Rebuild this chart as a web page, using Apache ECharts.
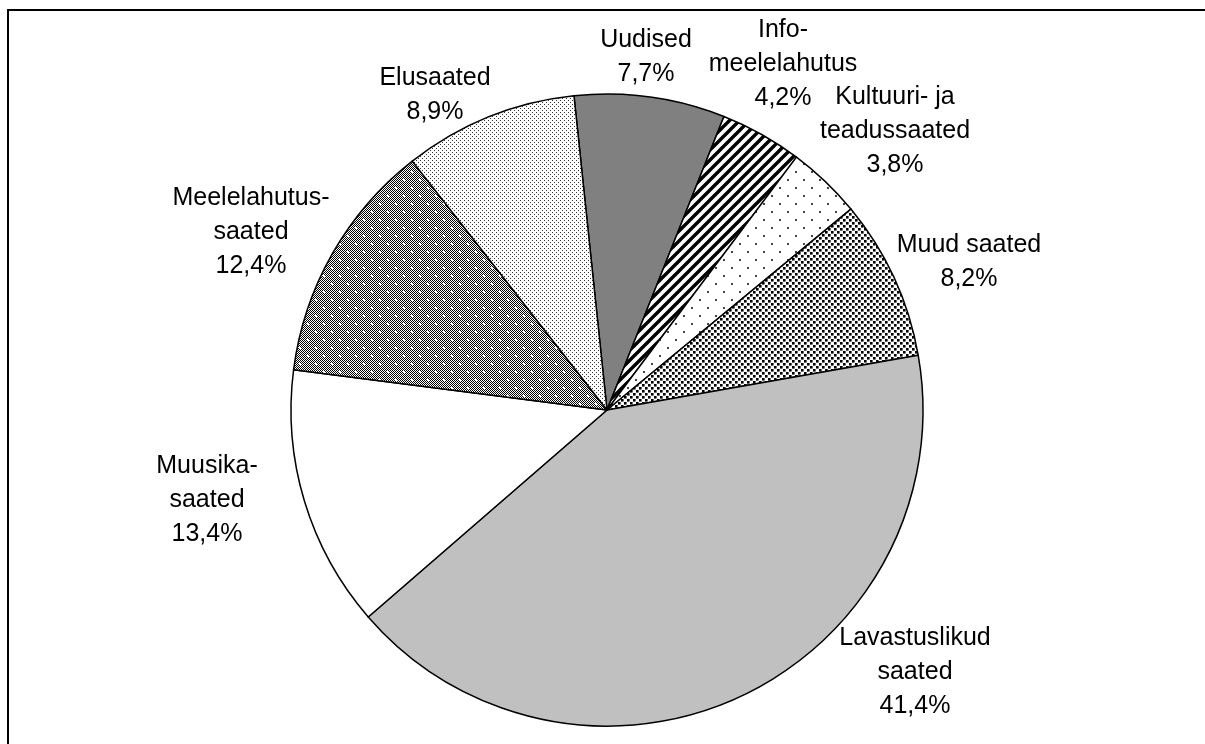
<!DOCTYPE html>
<html>
<head>
<meta charset="utf-8">
<title>Saated</title>
<script src="https://cdn.jsdelivr.net/npm/echarts@6/dist/echarts.min.js"></script>
<style>
  html, body { margin: 0; padding: 0; background: #fff; }
  #chart { width: 1205px; height: 744px; }
</style>
</head>
<body>
<div id="chart"></div>
<script>
// slice names (clockwise from top) and shares in percent
var categories = ['Uudised', 'Info-\nmeelelahutus', 'Kultuuri- ja\nteadussaated', 'Muud saated',
  'Lavastuslikud\nsaated', 'Muusika-\nsaated', 'Meelelahutus-\nsaated', 'Elusaated']
var shares = [7.7, 4.2, 3.8, 8.2, 41.4, 13.4, 12.4, 8.9]

// label centres, px
var labelPos = [[646, 57], [783, 64], [895, 131], [969, 262], [915, 672], [207, 500], [251, 232], [435, 95]]

function tile(size, draw) {
  var c = document.createElement('canvas')
  c.width = size
  c.height = size
  var ctx = c.getContext('2d')
  ctx.fillStyle = '#fff'
  ctx.fillRect(0, 0, size, size)
  draw(ctx, size)
  return { image: c, repeat: 'repeat' }
}

var stripes = tile(10, function (ctx, s) {
  ctx.strokeStyle = '#000'
  ctx.lineWidth = 3.4
  ctx.beginPath()
  ctx.moveTo(-3, 3); ctx.lineTo(3, -3)
  ctx.moveTo(0, s); ctx.lineTo(s, 0)
  ctx.moveTo(s - 3, s + 3); ctx.lineTo(s + 3, s - 3)
  ctx.stroke()
})
var sparseDots = tile(16, function (ctx) {
  ctx.fillStyle = '#444'
  ctx.fillRect(3, 3, 2, 2)
  ctx.fillRect(11, 11, 2, 2)
})
var denseDots = tile(6, function (ctx) {
  ctx.fillStyle = '#000'
  ctx.fillRect(0, 0, 2.6, 2.6)
  ctx.fillRect(3, 3, 2.6, 2.6)
})
var checker = tile(16, function (ctx, s) {
  ctx.fillStyle = '#000'
  for (var y = 0; y < s; y++) {
    for (var x = 0; x < s; x++) {
      if ((x + y) % 2 === 0) ctx.fillRect(x, y, 1, 1)
    }
  }
  ctx.fillStyle = '#fff'
  ctx.fillRect(3, 3, 2, 2)
  ctx.fillRect(11, 11, 2, 2)
})
var fineDots = tile(4, function (ctx) {
  ctx.fillStyle = '#333'
  ctx.fillRect(0, 0, 1, 1)
  ctx.fillRect(2, 2, 1, 1)
})

var fills = ['#808080', stripes, sparseDots, denseDots, '#c0c0c0', '#ffffff', checker, fineDots]

var chart = echarts.init(document.getElementById('chart'))
chart.setOption({
  animation: false,
  graphic: [{
    type: 'rect',
    shape: { x: 8, y: 10, width: 1300, height: 800 },
    style: { fill: 'none', stroke: '#000', lineWidth: 2 }
  }],
  series: [{
    type: 'pie',
    center: [607, 410],
    radius: 316,
    startAngle: 96,
    clockwise: true,
    avoidLabelOverlap: false,
    itemStyle: {
      borderColor: '#000',
      borderWidth: 1.5
    },
    emphasis: { disabled: true },
    label: {
      show: true,
      position: 'outside',
      fontFamily: 'Liberation Sans, Arial, sans-serif',
      fontSize: 25,
      lineHeight: 34,
      color: '#000',
      align: 'center',
      formatter: function (p) {
        return p.name + '\n' + p.value.toFixed(1).replace('.', ',') + '%'
      }
    },
    labelLine: { show: false },
    labelLayout: function (params) {
      var p = labelPos[params.dataIndex]
      return { x: p[0], y: p[1], align: 'center', verticalAlign: 'middle' }
    },
    data: categories.map(function (name, i) {
      return { name: name, value: shares[i], itemStyle: { color: fills[i] } }
    })
  }]
})
</script>
</body>
</html>
